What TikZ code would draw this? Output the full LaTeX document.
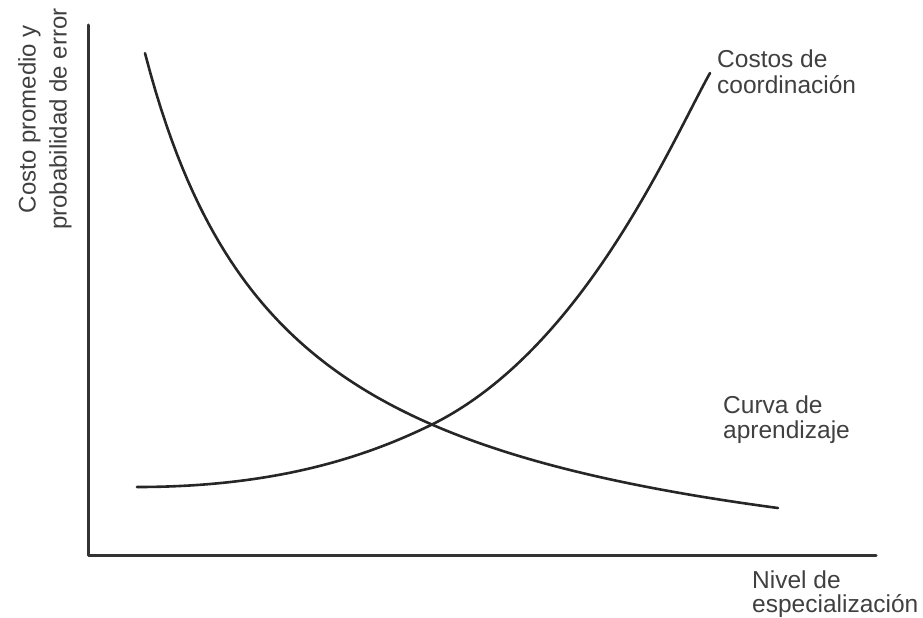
\documentclass[tikz,border=0pt]{standalone}
\usepackage{fontspec}
\setmainfont{Liberation Sans}
\begin{document}
\begin{tikzpicture}[x=1pt,y=-1pt,line cap=round,
  lbl/.style={align=left,inner sep=0pt,text=black!75,font=\fontsize{24.5}{26}\selectfont},
  curva/.style={line width=2.6pt,black!85}]
  \useasboundingbox (0,0) rectangle (923,618);

  % ejes
  \coordinate (t) at (88,25);
  \coordinate (o) at (88,555);
  \coordinate (r) at (876,555);
  \draw[line width=3pt,black!80,line join=round] (t) -- (o) -- (r);

  % curvas
  \draw[curva] plot[domain=1.45:7.78,samples=120] ({100*\x},{612.2-810.55/\x});
  \coordinate (x) at (433,424);
  \draw[curva] (137,487) .. controls (280,487) and (370,455) .. (x)
    .. controls (583,349) and (670,145) .. (710,73);

  \node[lbl,anchor=base west] (cc) at (717,93) {Costos de\\coordinación};
  \node[lbl,anchor=base west] (ca) at (723,438) {Curva de\\[-1pt]aprendizaje};
  \node[lbl,anchor=base west] (nx) at (752,612) {Nivel de\\[-2pt]especialización};
  \node[lbl,align=center,rotate=90,font=\fontsize{24}{26}\selectfont] (ny) at (45,119)
    {Costo promedio y\\[5pt]probabilidad de error};
\end{tikzpicture}
\end{document}
